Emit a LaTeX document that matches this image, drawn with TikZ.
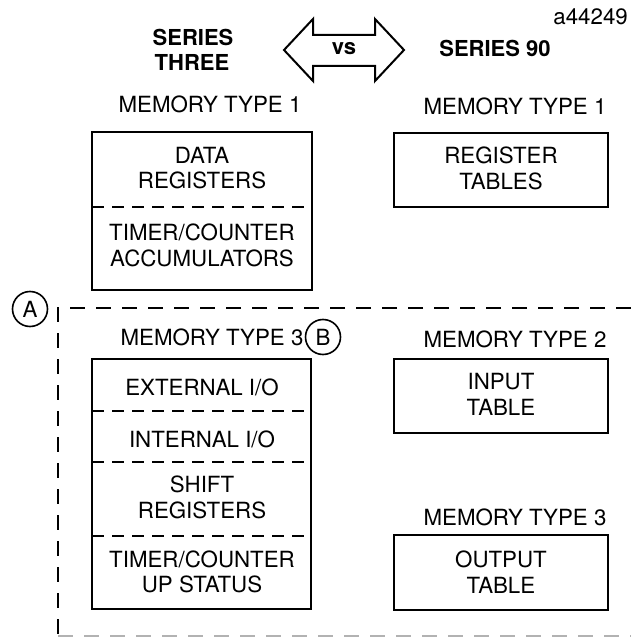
\documentclass[tikz,border=0pt]{standalone}
\usepackage{fontspec}
\setmainfont{TeX Gyre Heros}
\usetikzlibrary{calc}

\tikzset{
  txt/.style={anchor=base, inner sep=0pt, font=\fontsize{22.3bp}{26bp}\selectfont},
  head/.style={txt, font=\fontsize{22bp}{26bp}\selectfont\bfseries},
  frame/.style={line width=2bp},
  split/.style={line width=2bp, dash pattern=on 12bp off 8bp},
  zone/.style={line width=2.5bp, dash pattern=on 15bp off 11bp},
  tag/.style={draw, circle, line width=1.6bp, minimum size=35bp, inner sep=0pt,
    font=\fontsize{22.3bp}{26bp}\selectfont}
}

\begin{document}
\begin{tikzpicture}[x=1bp,y=-1bp]
\useasboundingbox (0,0) rectangle (631,641);

% header
\node[txt, anchor=base east] (code) at (628,25) {a44249};
\node[head] (s3a) at (193,46) {SERIES};
\node[head] (s3b) at (192,71) {THREE};
\node[head] (s90) at (495,57) {SERIES 90};

\coordinate (tl) at (284,50);
\coordinate (tr) at (404,50);
\draw[frame, line join=miter] (tl)--(313,19)--(313,35)--(375,35)--(375,19)--(tr)
  --(375,81)--(375,66)--(313,66)--(313,81)--cycle;
\node[head] (vs) at (344,55) {vs};

% memory type 1
\coordinate (a1) at (92,132);
\coordinate (a2) at (312,290);
\coordinate (b1) at (394,133);
\coordinate (b2) at (608,207);

\node[txt] (lm1) at (210,113) {MEMORY TYPE 1};
\draw[frame] (a1) rectangle (a2);
\draw[split] (92,207)--(312,207);
\node[txt] (data) at (202,164) {DATA};
\node[txt] (dreg) at (202,189) {REGISTERS};
\node[txt] (tc1) at (202,240) {TIMER/COUNTER};
\node[txt] (acc) at (202,266) {ACCUMULATORS};

\node[txt] (rm1) at (515,115) {MEMORY TYPE 1};
\draw[frame] (b1) rectangle (b2);
\node[txt] (rreg) at (501,164) {REGISTER};
\node[txt] (rtab) at (501,190) {TABLES};

% dashed zone
\node[tag] (A) at (30,309) {A};
\draw[zone] (631,308)--(58,308)--(58,636);
\draw[zone, black!30] (58,636)--(631,636);

% memory type 3 (series three)
\coordinate (c1) at (92,359);
\coordinate (c2) at (311,609);

\node[txt] (lm3) at (212,345) {MEMORY TYPE 3};
\node[tag] (B) at (323,337) {B};
\draw[frame] (c1) rectangle (c2);
\foreach \y in {411,462,536}
  \draw[split] (92,\y)--(311,\y);
\node[txt] (ext) at (202,395) {EXTERNAL I/O};
\node[txt] (int) at (202,447) {INTERNAL I/O};
\node[txt] (shf) at (202,492) {SHIFT};
\node[txt] (sreg) at (202,518) {REGISTERS};
\node[txt] (tc2) at (202,567) {TIMER/COUNTER};
\node[txt] (ups) at (202,592) {UP STATUS};

% memory type 2 and 3 (series 90)
\coordinate (d1) at (394,359);
\coordinate (d2) at (608,433);
\coordinate (e1) at (394,535);
\coordinate (e2) at (608,610);

\node[txt] (rm2) at (515,347) {MEMORY TYPE 2};
\draw[frame] (d1) rectangle (d2);
\node[txt] (inp) at (501,389) {INPUT};
\node[txt] (itab) at (501,415) {TABLE};

\node[txt] (rm3) at (515,525) {MEMORY TYPE 3};
\draw[frame] (e1) rectangle (e2);
\node[txt] (outp) at (501,567) {OUTPUT};
\node[txt] (otab) at (501,593) {TABLE};

\end{tikzpicture}
\end{document}
